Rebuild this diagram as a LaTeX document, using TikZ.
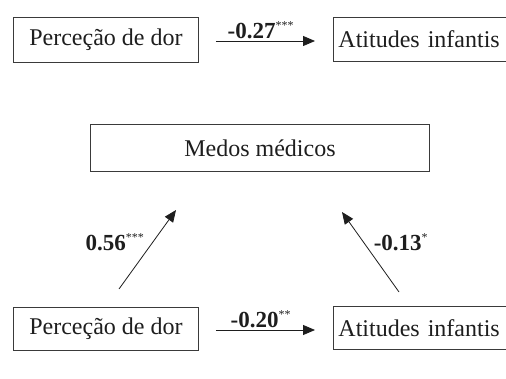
\documentclass[tikz,border=0pt]{standalone}
\usepackage{fontspec}
\setmainfont{Liberation Serif}
\usetikzlibrary{arrows.meta}
\definecolor{ink}{HTML}{1E1E1E}
\definecolor{frame}{HTML}{3A3A3A}
\tikzset{
  varbox/.style={draw=frame, line width=0.9pt, text=ink, font=\fontsize{24}{27}\selectfont, inner sep=0pt, anchor=north west},
  coef/.style={text=ink, font=\bfseries\fontsize{23}{26}\selectfont, inner sep=1pt},
  path/.style={draw=ink, line width=0.8pt, -{Triangle[length=12pt,width=10pt]}},
}
\newcommand{\sig}[1]{\textsuperscript{\normalfont\fontsize{12}{13}\selectfont #1}}
\begin{document}
\begin{tikzpicture}[x=1pt,y=-1pt]
\clip (0,0) rectangle (506,379);
\fill[white] (0,0) rectangle (506,379);
% top row
\node[varbox, minimum width=185pt, minimum height=45pt] (p1) at (13,17) {Perceção de dor};
\node[varbox, minimum width=200pt, minimum height=44pt, text width=200pt, align=left] (a1) at (333,17) {\hspace{5pt}Atitudes infantis};
\draw[path, shorten <=17pt, shorten >=18pt] (p1.east |- 0,41) -- (a1.west |- 0,41) node[coef, midway, above=1pt, xshift=-5pt] {-0.27\sig{***}};
% middle
\node[varbox, minimum width=339pt, minimum height=47pt] (m) at (90,124) {Medos médicos};
% bottom row
\node[varbox, minimum width=185pt, minimum height=43pt] (p2) at (13,307) {Perceção de dor};
\node[varbox, minimum width=200pt, minimum height=43pt, text width=200pt, align=left] (a2) at (333,306) {\hspace{5pt}Atitudes infantis};
\draw[path, shorten <=17pt, shorten >=18pt] (p2.east |- 0,330) -- (a2.west |- 0,330) node[coef, midway, above=1pt, xshift=-5pt] {-0.20\sig{**}};
% diagonal paths
\coordinate (ls) at (119,289);
\coordinate (le) at (176,210);
\coordinate (rs) at (399,292);
\coordinate (re) at (342,212);
\draw[path] (ls) -- (le);
\draw[path] (rs) -- (re);
\node[coef] (c1) at (115,242) {0.56\sig{***}};
\node[coef] (c2) at (401,242) {-0.13\sig{*}};
\end{tikzpicture}
\end{document}
